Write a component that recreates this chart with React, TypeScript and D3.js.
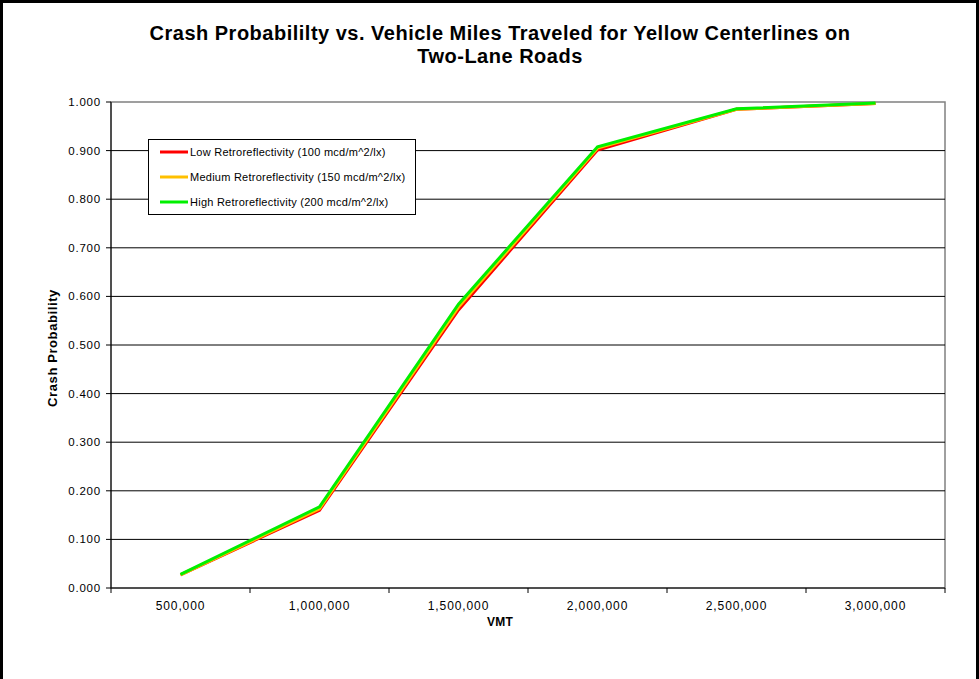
import React from "react";
import * as d3 from "d3";

const categories = ["500,000", "1,000,000", "1,500,000", "2,000,000", "2,500,000", "3,000,000"];
const lowValues = [0.027, 0.160, 0.572, 0.901, 0.985, 0.997];
const mediumValues = [0.027, 0.163, 0.578, 0.905, 0.985, 0.997];
const highValues = [0.028, 0.167, 0.584, 0.908, 0.986, 0.998];
const seriesNames = [
  "Low Retroreflectivity (100 mcd/m^2/lx)",
  "Medium Retroreflectivity (150 mcd/m^2/lx)",
  "High Retroreflectivity (200 mcd/m^2/lx)",
];
const seriesColors = ["#FF0000", "#FFC000", "#00F000"];
const yTicks = [0, 0.1, 0.2, 0.3, 0.4, 0.5, 0.6, 0.7, 0.8, 0.9, 1.0];

export default function App() {
  const W = 979, H = 679;
  const left = 111, right = 945, top = 102, bottom = 588;
  const x = d3.scaleBand<string>().domain(categories).range([left, right]);
  const y = d3.scaleLinear().domain([0, 1]).range([bottom, top]);
  const line = d3
    .line<number>()
    .x((_, i) => (x(categories[i]) as number) + x.bandwidth() / 2)
    .y((d) => y(d));
  const series = [lowValues, mediumValues, highValues];
  const font = "'Liberation Sans', Arial, sans-serif";
  const tickPositions = categories.map((c) => x(c) as number).concat([right]);

  return (
    <svg width={W} height={H} style={{ position: "absolute", left: 0, top: 0, background: "#fff" }} fontFamily={font}>
      <rect x={0} y={0} width={W} height={H} fill="#fff" />
      <rect x={1.5} y={1.5} width={W - 3} height={H + 40} fill="none" stroke="#000" strokeWidth={3} />
      <text x={500} y={40} textAnchor="middle" fontSize={20} fontWeight="bold" letterSpacing={0.5}>
        Crash Probabililty vs. Vehicle Miles Traveled for Yellow Centerlines on
      </text>
      <text x={500} y={63} textAnchor="middle" fontSize={20} fontWeight="bold" letterSpacing={0.5}>
        Two-Lane Roads
      </text>
      {/* plot area border */}
      <rect x={left} y={top} width={right - left} height={bottom - top} fill="none" stroke="#808080" strokeWidth={1.5} />
      {yTicks.slice(1, -1).map((t) => (
        <line key={"g" + t} x1={left} x2={right} y1={y(t)} y2={y(t)} stroke="#000" strokeWidth={1} />
      ))}
      {/* axes */}
      <line x1={left} x2={left} y1={top} y2={bottom} stroke="#000" />
      <line x1={left} x2={right} y1={bottom} y2={bottom} stroke="#000" />
      {yTicks.map((t) => (
        <g key={"yt" + t}>
          <line x1={left - 5} x2={left} y1={y(t)} y2={y(t)} stroke="#000" />
          <text x={left - 10} y={y(t) + 4} textAnchor="end" fontSize={11.5} letterSpacing={0.8}>
            {d3.format(".3f")(t)}
          </text>
        </g>
      ))}
      {tickPositions.map((p, i) => (
        <line key={"xt" + i} x1={p} x2={p} y1={bottom} y2={bottom + 5} stroke="#000" />
      ))}
      {categories.map((c) => (
        <text key={c} x={(x(c) as number) + x.bandwidth() / 2} y={bottom + 22} textAnchor="middle" fontSize={12} letterSpacing={0.9}>
          {c}
        </text>
      ))}
      <text x={500} y={626} textAnchor="middle" fontSize={12} fontWeight="bold" letterSpacing={0.3}>VMT</text>
      <text transform={`translate(57,348) rotate(-90)`} textAnchor="middle" fontSize={13} fontWeight="bold" letterSpacing={0.6}>
        Crash Probability
      </text>
      {series.map((s, i) => (
        <path key={"s" + i} d={line(s) as string} fill="none" stroke={seriesColors[i]} strokeWidth={3} strokeLinejoin="miter" />
      ))}
      {/* legend */}
      <rect x={148.5} y={139.5} width={267} height={75} fill="#fff" stroke="#000" strokeWidth={1} />
      {seriesNames.map((n, i) => (
        <g key={n}>
          <line x1={160} x2={188} y1={152 + i * 25} y2={152 + i * 25} stroke={seriesColors[i]} strokeWidth={3} />
          <text x={190} y={156 + i * 25} fontSize={11} letterSpacing={0.25}>{n}</text>
        </g>
      ))}
    </svg>
  );
}
